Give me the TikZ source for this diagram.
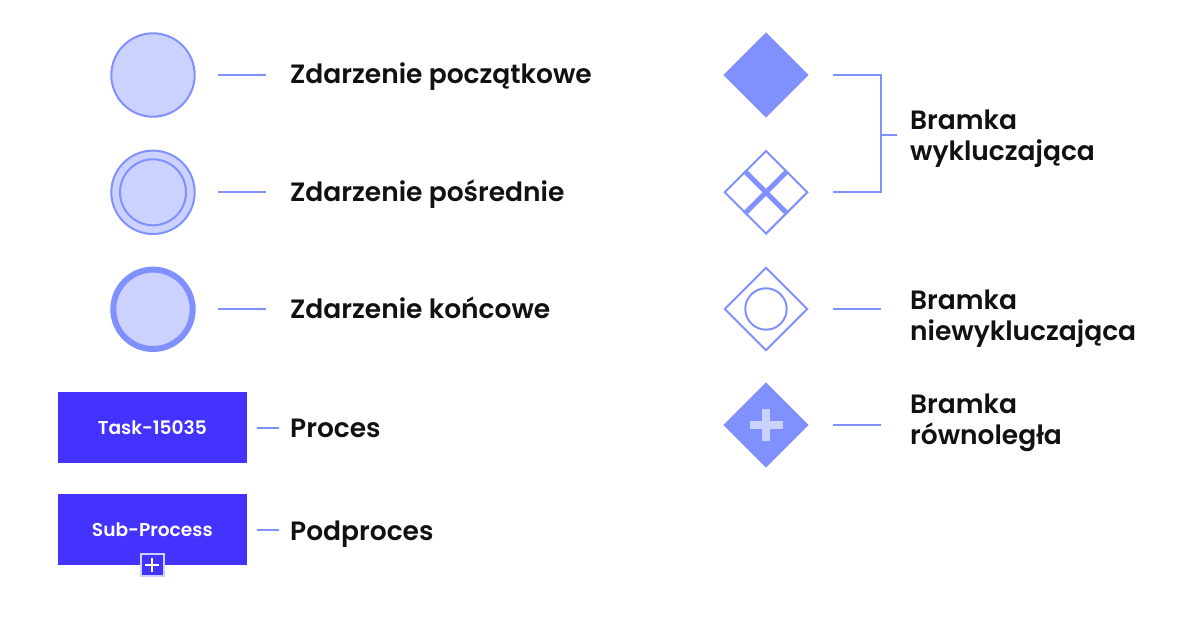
\documentclass[tikz,border=0pt]{standalone}
\usepackage{fontspec}
\IfFontExistsTF{Poppins SemiBold}{%
  \setmainfont{Poppins}[BoldFont={Poppins SemiBold}]%
}{%
  \setmainfont{Poppins}%
}
\usetikzlibrary{shapes.geometric,calc}
\definecolor{lite}{HTML}{CCD2FF}
\definecolor{mid}{HTML}{8090FF}
\definecolor{taskblue}{HTML}{4433FF}
\definecolor{ink}{HTML}{111111}
\tikzset{
  lbl/.style={anchor=base west, inner sep=0pt, text=ink, font=\bfseries\fontsize{26.5}{31}\selectfont, align=left},
  leg/.style={draw=mid, line width=2.3pt},
  evt/.style={circle, inner sep=0pt, fill=lite, draw=mid},
  gw/.style={diamond, aspect=1, inner sep=0pt},
  taskbox/.style={rectangle, inner sep=0pt, fill=taskblue, minimum width=188.7pt, minimum height=71.3pt, text=white, font=\bfseries\fontsize{18.6}{20}\selectfont},
}
\begin{document}
\begin{tikzpicture}[x=1pt,y=-1pt]
\useasboundingbox (0,0) rectangle (1200,628);
\fill[white] (0,0) rectangle (1200,628);
% events
\node[evt, line width=2pt, minimum size=83.4pt] (start) at (153,75) {};
\node[evt, line width=2pt, minimum size=83.4pt] (inter) at (153,192.3) {};
\node[evt, line width=2pt, minimum size=66pt] (interin) at (153,192.3) {};
\node[evt, line width=6pt, minimum size=79.4pt] (end) at (153,309.3) {};
\coordinate (l1a) at (218,75); \coordinate (l1b) at (265.7,75);
\coordinate (l2a) at (218,192.3); \coordinate (l2b) at (265.7,192.3);
\coordinate (l3a) at (218,309.3); \coordinate (l3b) at (265.7,309.3);
\draw[leg] (l1a) -- (l1b);
\draw[leg] (l2a) -- (l2b);
\draw[leg] (l3a) -- (l3b);
\node[lbl] (t1) at (290,84) {Zdarzenie początkowe};
\node[lbl] (t2) at (290,201.3) {Zdarzenie pośrednie};
\node[lbl] (t3) at (290,318.3) {Zdarzenie końcowe};
% tasks
\node[taskbox] (task) at (152.3,427.7) {Task-15035};
\node[taskbox] (sub) at (152.3,529.8) {Sub-Process};
\node[rectangle, inner sep=0pt, fill=taskblue, draw=lite, line width=2pt, minimum width=22.5pt, minimum height=22pt] (plus) at (152.3,565) {};
\draw[white, line width=1.8pt] ($(plus.center)+(-7,0)$) -- ($(plus.center)+(7,0)$);
\draw[white, line width=1.8pt] ($(plus.center)+(0,-7)$) -- ($(plus.center)+(0,7)$);
\coordinate (l4a) at (257.3,427.7); \coordinate (l4b) at (278.7,427.7);
\coordinate (l5a) at (257.3,530); \coordinate (l5b) at (278.7,530);
\draw[leg] (l4a) -- (l4b);
\draw[leg] (l5a) -- (l5b);
\node[lbl] (t4) at (290,437.5) {Proces};
\node[lbl] (t5) at (290,540) {Podproces};
% gateways
\node[gw, fill=mid, minimum size=85.4pt] (g1) at (766,75) {};
\node[gw, draw=mid, fill=white, line width=2pt, minimum size=83.4pt] (g2) at (766,192.3) {};
\draw[mid, line width=5pt] ($(g2.north)!0.5!(g2.west)$) -- ($(g2.south)!0.5!(g2.east)$);
\draw[mid, line width=5pt] ($(g2.north)!0.5!(g2.east)$) -- ($(g2.south)!0.5!(g2.west)$);
\node[gw, draw=mid, fill=white, line width=2pt, minimum size=83.4pt] (g3) at (766,309) {};
\node[circle, draw=mid, line width=2pt, inner sep=0pt, minimum size=41.4pt] (g3c) at (g3.center) {};
\node[gw, fill=mid, minimum size=85.4pt] (g4) at (766,425) {};
\fill[lite] ($(g4.center)+(-16.5,-4.2)$) rectangle ($(g4.center)+(16.5,4.2)$);
\fill[lite] ($(g4.center)+(-4.4,-16)$) rectangle ($(g4.center)+(4.4,16)$);
% bracket and legend lines
\coordinate (b1) at (833,75); \coordinate (b2) at (881,75);
\coordinate (b3) at (881,192.3); \coordinate (b4) at (833,192.3);
\coordinate (bm) at (881,135); \coordinate (bt) at (897,135);
\draw[leg] (b1) -- (b2) -- (b3) -- (b4);
\draw[leg] (bm) -- (bt);
\coordinate (l6a) at (833,309); \coordinate (l6b) at (881,309);
\coordinate (l7a) at (833,425); \coordinate (l7b) at (881,425);
\draw[leg] (l6a) -- (l6b);
\draw[leg] (l7a) -- (l7b);
\node[lbl] (t6) at (910,160.5) {Bramka\\wykluczająca};
\node[lbl] (t7) at (910,340.5) {Bramka\\niewykluczająca};
\node[lbl] (t8) at (910,444) {Bramka\\równoległa};
\end{tikzpicture}
\end{document}
